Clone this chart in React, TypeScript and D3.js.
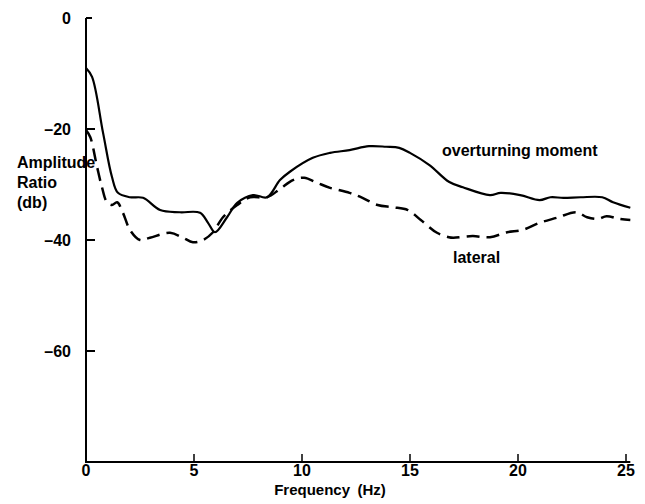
import React from "react";
import * as d3 from "d3";

const overturningFreq = [0, 0.28, 0.79, 1.2, 1.48, 2.04, 2.64, 3.43, 4.35, 5.28, 5.65, 5.97, 6.53, 7.0, 7.73, 8.38, 8.98, 9.44, 10.5, 11.3, 12.2, 13.1, 13.9, 14.5, 15.0, 15.9, 16.8, 17.45, 18.7, 19.2, 20.1, 21.0, 21.5, 22.1, 22.9, 23.9, 24.4, 25.2];
const overturningDb = [-9.0, -10.6, -20.7, -28.6, -31.5, -32.3, -32.4, -34.6, -35.0, -35.1, -36.9, -38.6, -35.9, -33.3, -31.9, -32.3, -29.2, -27.7, -25.2, -24.3, -23.8, -23.1, -23.2, -23.4, -24.3, -26.5, -29.5, -30.5, -31.9, -31.5, -31.9, -32.8, -32.3, -32.4, -32.3, -32.3, -33.2, -34.2];

const lateralFreq = [0, 0.2, 0.51, 0.74, 0.97, 1.2, 1.44, 1.71, 2.04, 2.5, 2.96, 3.89, 4.49, 4.95, 5.42, 5.88, 6.34, 7.0, 7.6, 8.38, 8.98, 9.58, 10.1, 10.7, 11.3, 12.2, 12.8, 13.5, 14.2, 14.9, 15.5, 16.25, 16.8, 17.0, 17.9, 18.7, 19.5, 20.2, 21.0, 21.8, 22.7, 23.2, 23.7, 24.1, 24.7, 25.2];
const lateralDb = [-20.2, -21.5, -26.8, -30.5, -33.2, -33.7, -33.2, -35.1, -38.2, -40.0, -39.6, -38.7, -39.6, -40.4, -40.0, -38.6, -35.9, -33.7, -32.3, -32.3, -30.8, -29.2, -28.8, -29.7, -30.6, -31.5, -32.4, -33.7, -34.1, -34.6, -36.4, -38.7, -39.5, -39.6, -39.3, -39.5, -38.6, -38.2, -36.9, -36.0, -35.0, -35.9, -36.2, -35.7, -36.2, -36.4];

const xTicks = [0, 5, 10, 15, 20, 25];
const yTicks = [0, -20, -40, -60];
const yLabelLines = ["Amplitude", "Ratio", "(db)"];

const FONT = "'Liberation Sans', Arial, sans-serif";

export default function App() {
  const W = 645, H = 504;
  const x = d3.scaleLinear().domain([0, 25]).range([86, 626]);
  const y = d3.scaleLinear().domain([-80, 0]).range([462, 18]);

  const line = d3
    .line<[number, number]>()
    .x((d) => x(d[0]))
    .y((d) => y(d[1]))
    .curve(d3.curveCatmullRom.alpha(0.5));

  const over = overturningFreq.map((f, i) => [f, overturningDb[i]] as [number, number]);
  const lat = lateralFreq.map((f, i) => [f, lateralDb[i]] as [number, number]);

  return (
    <svg
      width={W}
      height={H}
      style={{ position: "absolute", left: 0, top: 0, background: "#fff" }}
      fontFamily={FONT}
      fontWeight="bold"
    >
      {/* axes */}
      <line x1={x(0)} x2={x(0)} y1={y(0)} y2={y(-80)} stroke="#000" strokeWidth={2} />
      <line x1={x(0) - 1} x2={x(25.2)} y1={y(-80)} y2={y(-80)} stroke="#000" strokeWidth={2} />
      {yTicks.map((t) => (
        <g key={"y" + t}>
          <line x1={x(0)} x2={x(0) + (t === 0 ? 6 : 9)} y1={y(t)} y2={y(t)} stroke="#000" strokeWidth={2} />
          <text x={71} y={y(t)} dy="0.36em" textAnchor="end" fontSize={16}>
            {t === 0 ? "0" : "\u2013" + Math.abs(t)}
          </text>
        </g>
      ))}
      {xTicks.map((t) => (
        <g key={"x" + t}>
          {t > 0 && (
            <line x1={x(t)} x2={x(t)} y1={y(-80)} y2={y(-80) - 8} stroke="#000" strokeWidth={1.5} />
          )}
          <text x={x(t)} y={476} textAnchor="middle" fontSize={16}>
            {t}
          </text>
        </g>
      ))}
      <text x={330} y={495} textAnchor="middle" fontSize={15}>
        Frequency{"\u2002"}(Hz)
      </text>
      {yLabelLines.map((s, i) => (
        <text key={s} x={17} y={168 + i * 20} fontSize={16}>
          {s}
        </text>
      ))}

      {/* curves */}
      <path d={line(over) || ""} fill="none" stroke="#000" strokeWidth={2.2} strokeLinejoin="round" />
      <path
        d={line(lat) || ""}
        fill="none"
        stroke="#000"
        strokeWidth={2.5}
        strokeDasharray="13 7"
        strokeLinejoin="round"
      />

      <text x={442} y={156} fontSize={16}>
        overturning moment
      </text>
      <text x={453} y={263} fontSize={16}>
        lateral
      </text>
    </svg>
  );
}
